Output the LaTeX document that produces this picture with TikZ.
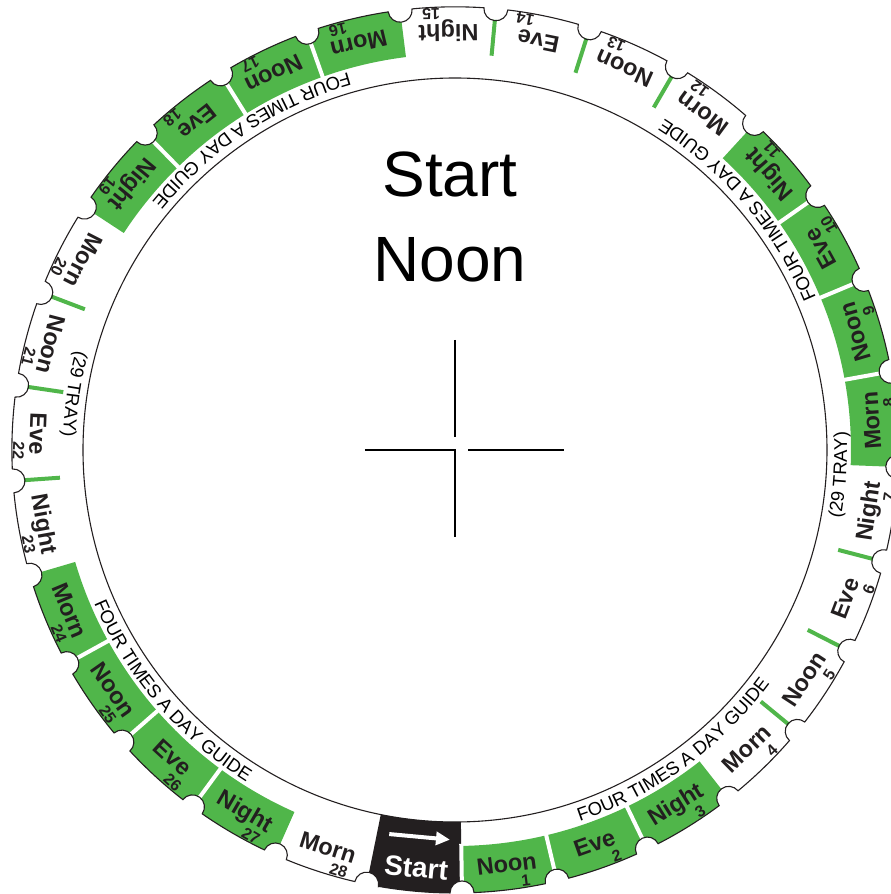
\documentclass[tikz,border=0pt]{standalone}
\usepackage{fontspec}
\setmainfont{Liberation Sans}
\usepackage{tikz}
\usetikzlibrary{arrows.meta, decorations.text}
\definecolor{dosegreen}{RGB}{80, 182, 74}
\definecolor{inkdark}{RGB}{35, 31, 32}
\newcommand{\guidefont}{\fontsize{18.5}{20}\selectfont}
% outer rim of the dial, with one notch at every cell border
\newcommand{\rimedge}{(\phiz+\notchang:\Rout)
  \foreach \bnd in {1,...,29}{
    arc[start angle=\phiz+\bnd*\cellw-\cellw+\notchang, end angle=\phiz+\bnd*\cellw-\notchang, radius=\Rout]
    arc[start angle=\phiz+\bnd*\cellw-\notchang/2-90, end angle=\phiz+\bnd*\cellw+\notchang/2-270, radius=\rnotch]
  } -- cycle}

\begin{document}
\begin{tikzpicture}[
  x=1pt, y=1pt,
  rim/.style={draw=inkdark, line width=1.1pt},
  word/.style={font=\fontsize{23.5}{24}\selectfont\bfseries, text=inkdark, inner sep=0pt, anchor=base},
  daynum/.style={font=\fontsize{16}{17}\selectfont\bfseries, text=inkdark, inner sep=0pt, anchor=base},
  startword/.style={font=\fontsize{28}{30}\selectfont\bfseries, text=white, inner sep=0pt},
  gap/.style={white, line width=4pt},
  tick/.style={dosegreen, line width=4pt},
  bigtext/.style={font=\fontsize{64}{70}\selectfont, inner sep=0pt, anchor=base},
  cross/.style={draw=black, line width=1.4pt}
]
  % dial geometry, origin at the centre
  \def\Rout{443} \def\Rin{372} \def\Rcell{396} \def\rnotch{12}
  \pgfmathsetmacro{\cellw}{360/29}
  \pgfmathsetmacro{\phiz}{264.7-\cellw/2}
  \pgfmathsetmacro{\notchang}{2*asin(\rnotch/(2*\Rout))}

  \clip (-455,-444) rectangle (436,450);

  % fills, kept inside the rim
  \begin{scope}
    \clip \rimedge;
    \foreach \cell in {1,2,3,8,9,10,11,16,17,18,19,24,25,26,27}
      \fill[dosegreen] (\phiz+\cell*\cellw:\Rcell)
        arc[start angle=\phiz+\cell*\cellw, end angle=\phiz+\cell*\cellw+\cellw, radius=\Rcell]
        -- (\phiz+\cell*\cellw+\cellw:\Rout+10)
        arc[start angle=\phiz+\cell*\cellw+\cellw, end angle=\phiz+\cell*\cellw, radius=\Rout+10] -- cycle;
    % start cell
    \fill[inkdark] (\phiz:\Rin)
      arc[start angle=\phiz, end angle=\phiz+\cellw, radius=\Rin]
      -- (\phiz+\cellw:\Rout+10)
      arc[start angle=\phiz+\cellw, end angle=\phiz, radius=\Rout+10] -- cycle;
    \foreach \bnd in {1,2,3,9,10,11,17,18,19,25,26,27}
      \draw[gap] (\phiz+\bnd*\cellw:\Rcell-2) -- (\phiz+\bnd*\cellw:\Rout+10);
  \end{scope}

  % green ticks between white cells
  \foreach \bnd in {5,6,7,13,14,15,21,22,23}
    \draw[tick] (\phiz+\bnd*\cellw:\Rcell) -- (\phiz+\bnd*\cellw:\Rout-\rnotch+1);

  \draw[rim] \rimedge;
  \draw[rim] (0,0) circle[radius=\Rin];

  % cell labels
  \foreach \cell/\wrd in {1/Noon,2/Eve,3/Night,4/Morn,5/Noon,6/Eve,7/Night,8/Morn,
      9/Noon,10/Eve,11/Night,12/Morn,13/Noon,14/Eve,15/Night,16/Morn,17/Noon,18/Eve,
      19/Night,20/Morn,21/Noon,22/Eve,23/Night,24/Morn,25/Noon,26/Eve,27/Night,28/Morn}{
    \pgfmathsetmacro{\ang}{264.7+\cell*\cellw}
    \begin{scope}[shift={(\ang:417)}, rotate=\ang+90, transform shape]
      \node[word] (w\cell) at (0,-8.4) {\wrd};
      \node[daynum] (n\cell) at (17,-24.7) {\cell};
    \end{scope}
  }

  % start cell label and arrow
  \begin{scope}[shift={(264.7:419.5)}, rotate=354.7, transform shape]
    \node[startword] (startlbl) at (0,0) {Start};
    \coordinate (arrtail) at (-30,31);
    \coordinate (arrtip) at (31,31);
    \draw[white, line width=4pt, -{Triangle[length=14pt, width=13pt]}] (arrtail) -- (arrtip);
  \end{scope}

  % guide texts round the inner circle
  \foreach \ctr in {306, 40.3, 123.2, 220.4}
    \path[decorate, decoration={text along path, text align=center,
        text={|\guidefont|FOUR TIMES A DAY GUIDE}}]
      (\ctr-30:392) arc[start angle=\ctr-30, end angle=\ctr+30, radius=392];
  \foreach \ctr in {356.3, 171.7}
    \path[decorate, decoration={text along path, text align=center,
        text={|\guidefont|(29 TRAY)}}]
      (\ctr-20:392) arc[start angle=\ctr-20, end angle=\ctr+20, radius=392];

  % centre
  \node[bigtext] (title1) at (-5,253) {Start};
  \node[bigtext] (title2) at (-5,168) {Noon};
  \draw[cross] (0,110) -- (0,13);
  \draw[cross] (-90,0) -- (0,0) -- (0,-87);
  \draw[cross] (13,0) -- (109,0);
\end{tikzpicture}
\end{document}
